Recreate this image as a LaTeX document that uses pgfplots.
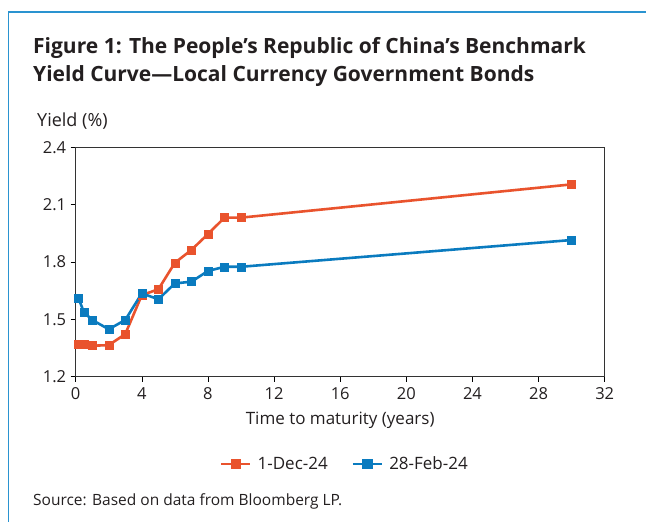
\documentclass[border=0pt]{standalone}
\usepackage{pgfplots}
\pgfplotsset{compat=1.18}
\usepackage{fontspec}
\setmainfont{Open Sans}
\definecolor{cred}{HTML}{E9532D}
\definecolor{cblue}{HTML}{0A7BBF}
\definecolor{cframe}{HTML}{2A93D0}
\definecolor{ctext}{HTML}{231F20}
\begin{document}
\begin{tikzpicture}[x=1pt,y=1pt, every node/.style={text=ctext}]
\path[use as bounding box] (0,0) rectangle (646,522);
\draw[cframe, line width=1.2pt] (8.5,-2) -- (8.5,510) -- (650,510);
\node[anchor=base west, align=left, font=\fontsize{21}{28.4}\selectfont\bfseries, inner sep=0pt] at (33,440.3) {Figure 1: The People’s Republic of China’s Benchmark\\Yield Curve—Local Currency Government Bonds};
\node[anchor=base west, font=\fontsize{18}{20}\selectfont, inner sep=0pt] at (37,395) {Yield (\%)};
\node[anchor=base west, font=\fontsize{15.5}{17}\selectfont, inner sep=0pt] at (33,16) {Source: Based on data from Bloomberg LP.};
\begin{axis}[
  at={(75.7pt,145.3pt)}, anchor=south west,
  scale only axis, width=529pt, height=229.4pt,
  xmin=0, xmax=32, ymin=1.2, ymax=2.4,
  xtick={0,4,...,32}, ytick={1.2,1.5,...,2.4},
  yticklabel style={xshift=-1pt, /pgf/number format/.cd, fixed, fixed zerofill, precision=1},
  /pgf/number format/assume math mode=true,
  tick align=outside, tick pos=left, major tick length=5pt,
  tick style={black, line width=0.6pt},
  axis line style={black!80, line width=0.7pt},
  ticklabel style={font=\fontsize{16.5}{18}\selectfont, text=ctext},
  xticklabel style={yshift=-2pt},
  xlabel={Time to maturity (years)},
  xlabel style={font=\fontsize{17}{19}\selectfont, yshift=-6pt, text=ctext},
  legend columns=2,
  legend cell align=left,
  legend style={draw=none, at={(0.509,-0.38)}, anchor=center, font=\fontsize{17}{19}\selectfont, text=ctext,
    /tikz/every odd column/.append style={column sep=4pt},
    /tikz/every even column/.append style={column sep=22pt}},
  legend image code/.code={\draw[#1, line width=2.5pt] (0pt,0pt) -- (29pt,0pt); \fill[#1] (10.5pt,-4pt) rectangle (18.5pt,4pt);},
]
\addplot[cred, line width=2.6pt, mark=square*, mark size=4pt, mark options={line width=0.5pt, rounded corners=1pt}] coordinates {
(0.17,1.369) (0.5,1.369) (1,1.362) (2,1.365) (3,1.423) (4,1.627) (5,1.657) (6,1.796) (7,1.863) (8,1.946) (9,2.032) (10,2.032) (30,2.206)};
\addlegendentry{1-Dec-24}
\addplot[cblue, line width=2.6pt, mark=square*, mark size=4pt, mark options={line width=0.5pt, rounded corners=1pt}] coordinates {
(0.17,1.61) (0.5,1.537) (1,1.497) (2,1.448) (3,1.497) (4,1.636) (5,1.605) (6,1.688) (7,1.697) (8,1.753) (9,1.775) (10,1.775) (30,1.915)};
\addlegendentry{28-Feb-24}
\end{axis}
\end{tikzpicture}
\end{document}
